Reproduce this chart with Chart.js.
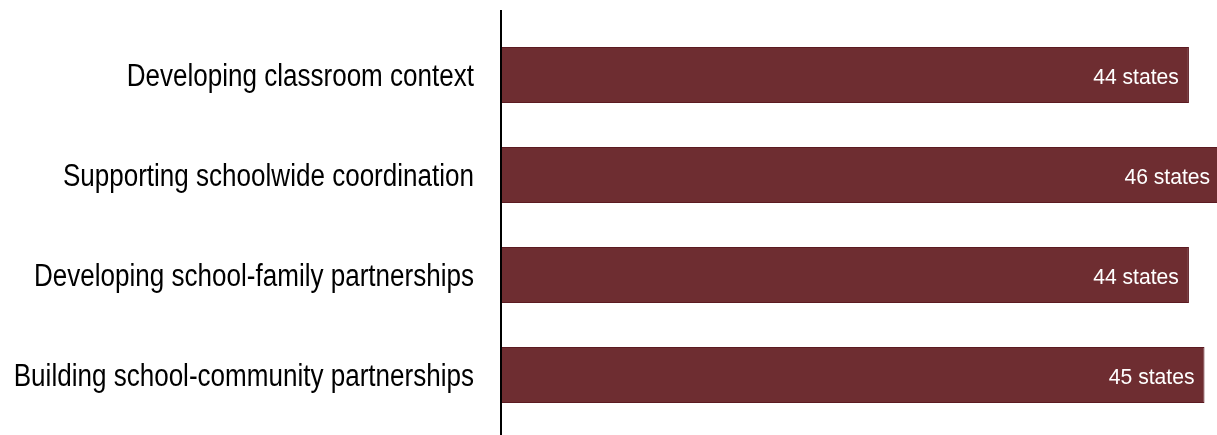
<!DOCTYPE html>
<html>
<head>
<meta charset="utf-8">
<script src="https://cdn.jsdelivr.net/npm/chart.js@4"></script>
<style>
  html, body { margin: 0; padding: 0; background: #fff; }
  #wrap { width: 1217px; height: 435px; }
</style>
</head>
<body>
<div id="wrap"><canvas id="chart" width="1217" height="435"></canvas></div>
<script>
const categories = [
    'Developing classroom context',
    'Supporting schoolwide coordination',
    'Developing school-family partnerships',
    'Building school-community partnerships'
];
const stateCounts = [44, 46, 44, 45];
const valueSuffix = ' states';

const fontFamily = "'Liberation Sans', Arial, sans-serif";

// axis line runs a bit past the bars at top and bottom
const axisLine = {
    id: 'axisLine',
    afterDraw: function (chart) {
        const ctx = chart.ctx;
        const x = chart.scales.x.getPixelForValue(0) - 1;
        ctx.save();
        ctx.strokeStyle = '#000';
        ctx.lineWidth = 2;
        ctx.beginPath();
        ctx.moveTo(x, chart.chartArea.top - 15);
        ctx.lineTo(x, chart.chartArea.bottom + 10);
        ctx.stroke();
        ctx.restore();
    }
};

// category names, drawn narrow (the original uses a condensed face)
const categoryLabels = {
    id: 'categoryLabels',
    afterDraw: function (chart) {
        const ctx = chart.ctx;
        const yScale = chart.scales.y;
        const right = chart.scales.x.getPixelForValue(0) - 28;
        ctx.save();
        ctx.fillStyle = '#000';
        ctx.font = '31px ' + fontFamily;
        ctx.textAlign = 'right';
        ctx.textBaseline = 'alphabetic';
        chart.data.labels.forEach(function (label, i) {
            const y = yScale.getPixelForTick(i);
            ctx.save();
            ctx.translate(right, y + 11);
            ctx.scale(0.84, 1);
            ctx.fillText(label, 0, 0);
            ctx.restore();
        });
        ctx.restore();
    }
};

const valueLabels = {
    id: 'valueLabels',
    afterDatasetsDraw: function (chart) {
        const ctx = chart.ctx;
        const meta = chart.getDatasetMeta(0);
        ctx.save();
        ctx.fillStyle = '#fff';
        ctx.font = '22px ' + fontFamily;
        ctx.textAlign = 'right';
        ctx.textBaseline = 'alphabetic';
        meta.data.forEach(function (bar, i) {
            ctx.save();
            ctx.translate(bar.x - 10, bar.y + 9);
            ctx.scale(0.96, 1);
            ctx.fillText(stateCounts[i] + valueSuffix, 0, 0);
            ctx.restore();
        });
        ctx.restore();
    }
};

const ctx = document.getElementById('chart').getContext('2d');
const myChart = new Chart(ctx, {
    type: 'bar',
    data: {
        labels: categories,
        datasets: [{
            data: stateCounts,
            backgroundColor: '#6e2d31',
            borderColor: '#5b1a21',
            borderWidth: 1,
            categoryPercentage: 1,
            barPercentage: 0.56
        }]
    },
    options: {
        indexAxis: 'y',
        responsive: false,
        animation: false,
        devicePixelRatio: 1,
        layout: { padding: { top: 25, bottom: 10, left: 0, right: 0 } },
        plugins: {
            legend: { display: false },
            tooltip: { enabled: false }
        },
        scales: {
            x: {
                display: false,
                min: 0,
                max: 45.8 // longest bar runs off the right edge
            },
            y: {
                grid: { display: false, drawTicks: false },
                border: { display: false },
                ticks: { display: false },
                afterFit: function (scale) {
                    scale.width = 502;
                    scale.paddingTop = 0;
                    scale.paddingBottom = 0;
                }
            }
        }
    },
    plugins: [axisLine, categoryLabels, valueLabels]
});
</script>
</body>
</html>
